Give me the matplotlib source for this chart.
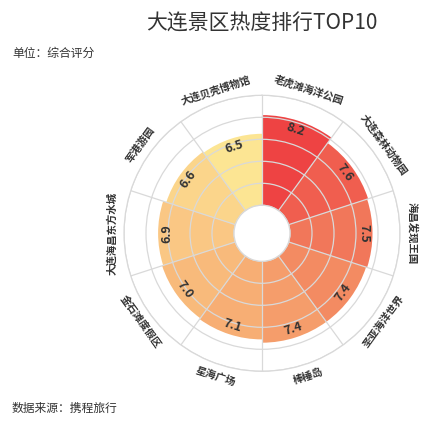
import numpy as np
import matplotlib
matplotlib.use("Agg")
import matplotlib.pyplot as plt

plt.rcParams['font.family'] = ['Noto Sans CJK SC', 'DejaVu Sans']

categories = ["老虎滩海洋公园", "大连森林动物园", "海昌发现王国", "圣亚海洋世界", "棒棰岛",
              "星海广场", "金石滩度假区", "大连海昌东方水城", "军港游园", "大连贝壳博物馆"]
values = [8.2, 7.6, 7.5, 7.4, 7.4, 7.1, 7.0, 6.9, 6.6, 6.5]
colors = ["#EE4343", "#F05E4F", "#F1775A", "#F38B62", "#F59D6B",
          "#F7AE74", "#F8BA7B", "#FAC784", "#FBD58B", "#FCE593"]
title = "大连景区热度排行TOP10"
subtitle = "单位：综合评分"
source = "数据来源：携程旅行"

W, H = 448, 424
fig = plt.figure(figsize=(W / 100, H / 100), dpi=100)
cx, cy, R = 262, 233.3, 138
ax = fig.add_axes([(cx - R) / W, (H - cy - R) / H, 2 * R / W, 2 * R / H], projection='polar')
ax.set_theta_zero_location('N')
ax.set_theta_direction(-1)
ax.set_ylim(0, 10)
ax.set_rorigin(-28 / 11)

n = len(categories)
step = 2 * np.pi / n
theta = np.arange(n) * step + step / 2
ax.bar(theta, values, width=step, color=colors, edgecolor='none', align='center', zorder=1)

ax.set_xticks(np.arange(n) * step)
ax.set_xticklabels([])
ax.set_yticks([0, 2, 4, 6, 8, 10])
ax.set_yticklabels([])
ax.set_axisbelow(False)
ax.grid(True, color='#d9d9d9', linewidth=0.9)
ax.spines['polar'].set_color('#d9d9d9')
ax.spines['polar'].set_linewidth(0.9)
if 'inner' in ax.spines:
    ax.spines['inner'].set_color('#d9d9d9')
    ax.spines['inner'].set_linewidth(0.9)
ax.tick_params(length=0)


def rot(t):
    phi = 90 - np.degrees(t)
    phi = (phi + 180) % 360 - 180
    if phi == -180:
        phi = 180
    if -180 < phi < 0:
        return phi + 90
    return phi - 90


for t, v, c in zip(theta, values, categories):
    r = rot(t)
    ax.text(t, 11.1, c, rotation=r, rotation_mode='anchor', ha='center', va='center',
            fontsize=7.5, fontweight='bold', color='#333333', clip_on=False)
    ax.text(t, v - 0.82, f"{v:.1f}", rotation=r, rotation_mode='anchor', ha='center', va='center',
            fontsize=9, fontweight='bold', color='#333333', clip_on=False)

fig.text(262 / W, 1 - 24 / H, title, ha='center', va='center', fontsize=15, color='#333333')
fig.text(12 / W, 1 - 53 / H, subtitle, ha='left', va='center', fontsize=8.5, color='#333333')
fig.text(12 / W, 1 - 408 / H, source, ha='left', va='center', fontsize=8.5, color='#333333')

fig.savefig('out.png', dpi=100, facecolor='white')
